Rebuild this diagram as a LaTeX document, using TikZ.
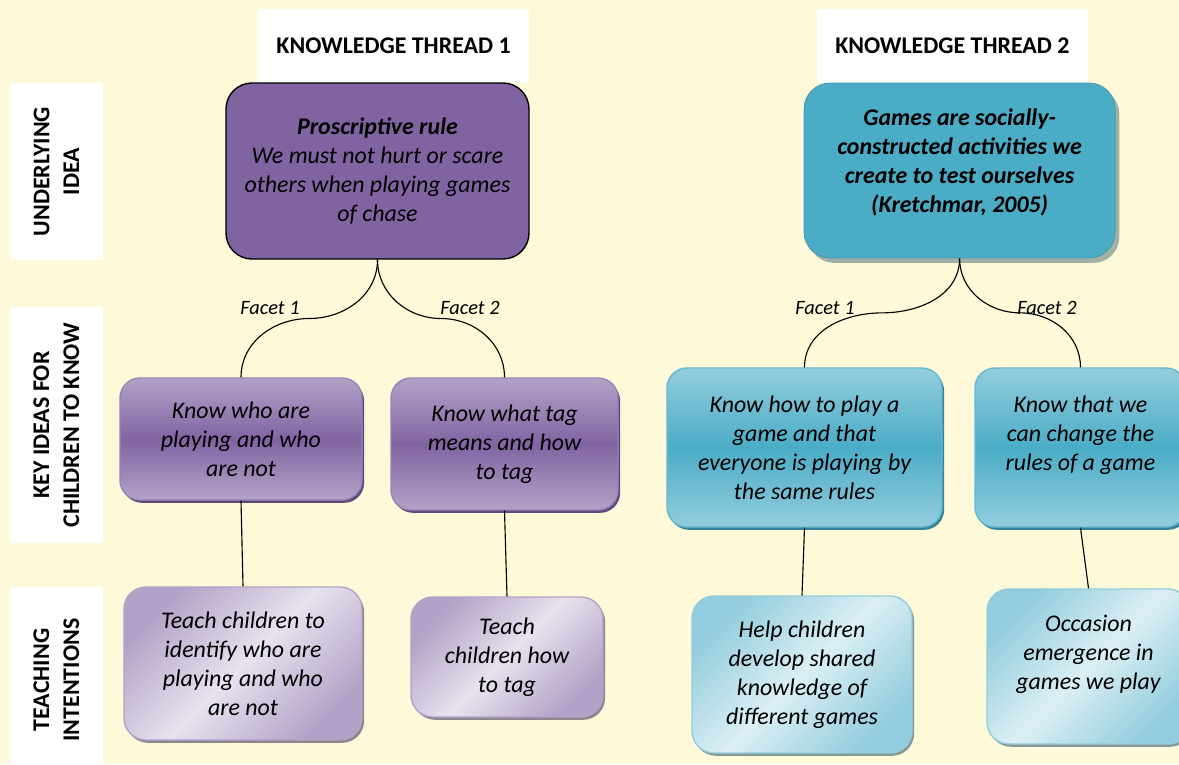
\documentclass[tikz,border=0pt]{standalone}
\usepackage{fontspec}
\setmainfont{Carlito}
\usetikzlibrary{shadows,calc}

\definecolor{bgyellow}{RGB}{253,249,217}
\definecolor{purpletop}{HTML}{8064A2}
\definecolor{purplelight}{HTML}{B3A2C7}
\definecolor{purplepale}{HTML}{E7E2EE}
\definecolor{purpleshadow}{HTML}{5F497A}
\definecolor{tealtop}{HTML}{4BACC6}
\definecolor{teallight}{HTML}{93CDDD}
\definecolor{tealpale}{HTML}{DCEFF4}
\definecolor{tealshadow}{HTML}{31849B}

\tikzset{
	bodyfont/.style={font=\fontsize{17}{20.6}\selectfont\itshape},
	threadtitle/.style={fill=white, font=\fontsize{17}{20.6}\selectfont\bfseries,
		minimum width=6.775cm, minimum height=1.85cm},
	sidelabel/.style={fill=white, rotate=90, align=center,
		font=\fontsize{17}{21.3}\selectfont\bfseries, minimum height=2.325cm},
	ideabox/.style={rectangle, rounded corners=0.65cm, align=center, bodyfont},
	keypurple/.style={rectangle, rounded corners=0.5cm, align=center, bodyfont,
		draw=purpletop!80!white, line width=1pt,
		top color=purplelight, bottom color=purplelight, middle color=purpletop,
		drop shadow={shadow xshift=1.5pt, shadow yshift=-2pt, fill=purpleshadow, opacity=1}},
	keyteal/.style={rectangle, rounded corners=0.5cm, align=center, bodyfont,
		draw=tealtop!85!white, line width=1pt,
		top color=teallight, bottom color=teallight, middle color=tealtop,
		drop shadow={shadow xshift=1.5pt, shadow yshift=-2pt, fill=tealshadow, opacity=1}},
	teachpurple/.style={rectangle, rounded corners=0.55cm, align=center, bodyfont,
		draw=purplelight, line width=1pt,
		top color=purplelight, bottom color=purplelight, middle color=purplepale, shading angle=45,
		drop shadow={shadow xshift=1.5pt, shadow yshift=-2pt, fill=gray!60!purpleshadow, opacity=0.8}},
	teachteal/.style={rectangle, rounded corners=0.55cm, align=center, bodyfont,
		draw=teallight, line width=1pt,
		top color=teallight, bottom color=teallight, middle color=tealpale, shading angle=45,
		drop shadow={shadow xshift=1.5pt, shadow yshift=-2pt, fill=gray!70!tealshadow, opacity=0.8}},
	facet/.style={font=\fontsize{14.5}{17}\selectfont\itshape},
	conn/.style={line width=0.8pt}
}

\begin{document}
\begin{tikzpicture}
	\useasboundingbox (0,0) rectangle (29.475,-19.1);
	\fill[bgyellow] (0,0) rectangle (29.475,-19.1);

	% thread titles and row labels
	\node[threadtitle] (title1) at (9.84,-1.15) {KNOWLEDGE THREAD 1};
	\node[threadtitle] (title2) at (23.81,-1.15) {KNOWLEDGE THREAD 2};

	\node[sidelabel, minimum width=4.425cm] (row1) at (1.41,-4.29) {UNDERLYING\\IDEA};
	\node[sidelabel, minimum width=5.9cm] (row2) at (1.41,-10.625) {KEY IDEAS FOR\\CHILDREN TO KNOW};
	\node[sidelabel, minimum width=4.65cm] (row3) at (1.41,-17.0) {TEACHING\\INTENTIONS};

	% underlying ideas
	\node[ideabox, fill=purpletop, draw=black, line width=1pt,
		minimum width=7.575cm, minimum height=4.4cm] (idea1) at (9.4375,-4.275)
		{\textbf{Proscriptive rule}\\We must not hurt or scare\\others when playing games\\of chase};
	\node[ideabox, fill=tealtop, draw=tealtop!90!black, line width=0.6pt,
		drop shadow={shadow xshift=3pt, shadow yshift=-3.5pt, fill=gray!80!teal, opacity=0.6},
		minimum width=7.775cm, minimum height=4.375cm] (idea2) at (23.99,-4.2625)
		{\bfseries Games are socially-\\\bfseries constructed activities we\\\bfseries create to test ourselves\\\bfseries (Kretchmar, 2005)\\[-6pt]\mbox{}};

	% key ideas
	\node[keypurple, minimum width=6.05cm, minimum height=3.05cm] (key11) at (6.025,-10.975)
		{Know who are\\playing and who\\are not};
	\node[keypurple, minimum width=5.675cm, minimum height=3.3cm] (key12) at (12.6125,-11.1)
		{Know what tag\\means and how\\to tag};
	\node[keyteal, minimum width=6.875cm, minimum height=3.975cm] (key21) at (20.1125,-11.1875)
		{Know how to play a\\game and that\\everyone is playing by\\the same rules};
	\node[keyteal, minimum width=5.275cm, minimum height=3.975cm] (key22) at (27.0125,-11.1875)
		{Know that we\\can change the\\rules of a game\\\mbox{}};

	% teaching intentions
	\node[teachpurple, minimum width=5.95cm, minimum height=3.825cm] (teach11) at (6.075,-16.5875)
		{Teach children to\\identify who are\\playing and who\\are not};
	\node[teachpurple, minimum width=4.8cm, minimum height=3.0cm] (teach12) at (12.675,-16.425)
		{Teach\\children how\\to tag};
	\node[teachteal, minimum width=5.5cm, minimum height=3.925cm] (teach21) at (20.05,-16.8625)
		{Help children\\develop shared\\knowledge of\\different games};
	\node[teachteal, minimum width=5.075cm, minimum height=3.875cm] (teach22) at (27.2125,-16.6625)
		{Occasion\\emergence in\\games we play\\\mbox{}};

	% facet braces
	\coordinate (brace11) at ($(idea1.south)!0.5!(key11.north)$);
	\coordinate (brace12) at ($(idea1.south)!0.5!(key12.north)$);
	\coordinate (brace21) at ($(idea2.south)!0.5!(key21.north)$);
	\coordinate (brace22) at ($(idea2.south)!0.5!(key22.north)$);

	\draw[conn] (idea1.south) to[out=-90,in=0] (brace11) to[out=180,in=90] (key11.north);
	\draw[conn] (idea1.south) to[out=-90,in=180] (brace12) to[out=0,in=90] (key12.north);
	\draw[conn] (idea2.south) to[out=-90,in=0] (brace21) to[out=180,in=90] (key21.north);
	\draw[conn] (idea2.south) to[out=-90,in=180] (brace22) to[out=0,in=90] (key22.north);

	\node[facet] (facet11) at (6.75,-7.71) {Facet 1};
	\node[facet] (facet12) at (11.75,-7.71) {Facet 2};
	\node[facet] (facet21) at (20.625,-7.71) {Facet 1};
	\node[facet] (facet22) at (26.175,-7.71) {Facet 2};

	% key ideas to teaching intentions
	\draw[conn] (key11.south) -- (teach11.north);
	\draw[conn] (key12.south) -- (teach12.north);
	\draw[conn] (key21.south) -- (teach21.north);
	\draw[conn] (key22.south) -- (teach22.north);
\end{tikzpicture}
\end{document}
